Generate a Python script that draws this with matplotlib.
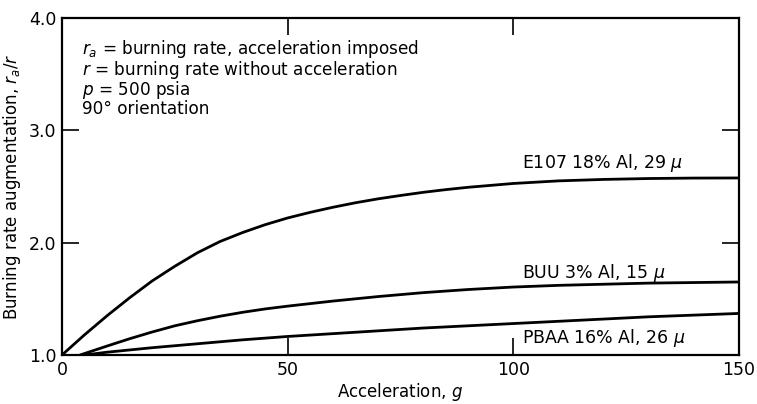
import matplotlib
matplotlib.use("Agg")
import matplotlib.pyplot as plt

plt.rcParams['font.family'] = ['DejaVu Sans']
plt.rcParams['mathtext.fontset'] = 'dejavusans'

# Data
e107_x = [0, 5, 10, 15, 20, 25, 30, 35, 40, 45, 50, 55, 60, 65, 70, 75, 80, 85, 90, 100, 110, 120, 130, 140, 150]
e107_y = [1.00, 1.18, 1.35, 1.51, 1.66, 1.79, 1.91, 2.01, 2.09, 2.16, 2.22, 2.27, 2.315, 2.355,
          2.39, 2.42, 2.448, 2.472, 2.493, 2.527, 2.55, 2.563, 2.571, 2.575, 2.576]

buu_x = [4, 10, 15, 20, 25, 30, 35, 40, 45, 50, 60, 70, 80, 90, 100, 110, 120, 130, 140, 150]
buu_y = [1.00, 1.08, 1.145, 1.205, 1.26, 1.305, 1.345, 1.38, 1.41, 1.435, 1.48, 1.52, 1.555,
         1.583, 1.605, 1.62, 1.63, 1.64, 1.645, 1.65]

pbaa_x = [5, 10, 20, 30, 40, 50, 60, 70, 80, 90, 100, 110, 120, 130, 140, 150]
pbaa_y = [1.00, 1.025, 1.065, 1.10, 1.135, 1.165, 1.19, 1.215, 1.24, 1.26, 1.28, 1.30, 1.32,
          1.34, 1.355, 1.37]

series_labels = [r"E107 18% Al, 29 $\mu$", r"BUU 3% Al, 15 $\mu$", r"PBAA 16% Al, 26 $\mu$"]
label_pos = [(102, 2.71), (102, 1.73), (102, 1.15)]

x_ticks = [0, 50, 100, 150]
y_ticks = [1.0, 2.0, 3.0, 4.0]
y_ticklabels = ["1.0", "2.0", "3.0", "4.0"]

notes = [r"$r_a$ = burning rate, acceleration imposed",
         r"$r$ = burning rate without acceleration",
         r"$p$ = 500 psia",
         "90° orientation"]

fig = plt.figure(figsize=(7.57, 4.04), dpi=100)
ax = fig.add_axes([62/757, 49/404, 677/757, 337/404])

for xs, ys in [(e107_x, e107_y), (buu_x, buu_y), (pbaa_x, pbaa_y)]:
    ax.plot(xs, ys, color='black', lw=2.0, solid_capstyle='round', solid_joinstyle='round')

for (lx, ly), lab in zip(label_pos, series_labels):
    ax.text(lx, ly, lab, fontsize=12.5, ha='left', va='center')

ax.text(0.03, 0.94, "\n".join(notes), transform=ax.transAxes, fontsize=12.2,
        ha='left', va='top', linespacing=0.9)

ax.set_xlim(0, 150)
ax.set_ylim(1.0, 4.0)
ax.set_xticks(x_ticks)
ax.set_yticks(y_ticks)
ax.set_yticklabels(y_ticklabels)
ax.tick_params(direction='in', length=12, width=1.2, top=True, right=True,
               labelsize=12.5, pad=4)
for s in ax.spines.values():
    s.set_linewidth(1.6)

ax.set_xlabel(r"Acceleration, $g$", fontsize=12, labelpad=2)
ax.set_ylabel(r"Burning rate augmentation, $r_a/r$", fontsize=12, labelpad=4)

fig.savefig("out.png", dpi=100)
